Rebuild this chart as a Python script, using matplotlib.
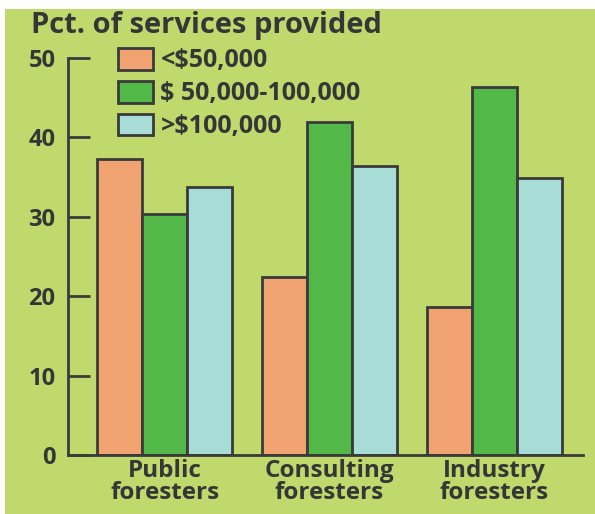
import numpy as np
import matplotlib
matplotlib.use('Agg')
import matplotlib.pyplot as plt
from matplotlib.patches import Rectangle

categories = ['Public\nforesters', 'Consulting\nforesters', 'Industry\nforesters']
series_names = ['<$50,000', '$ 50,000-100,000', '>$100,000']
low_income = [37.3, 22.4, 18.7]
mid_income = [30.3, 42.0, 46.4]
high_income = [33.8, 36.4, 34.9]
y_ticks = [0, 10, 20, 30, 40, 50]

colors = ['#f0a271', '#52b847', '#a8dcd6']
edge = '#3a3a3a'
text_col = '#363636'
bg = '#bfd96c'

plt.rcParams['font.family'] = ['Open Sans', 'DejaVu Sans']
plt.rcParams['font.weight'] = 'bold'

fig = plt.figure(figsize=(5.95, 5.14), dpi=100)
fig.patch.set_facecolor('white')
fig.patches.append(Rectangle((5 / 595, 0), 1, 1 - 9 / 514, transform=fig.transFigure,
                             facecolor=bg, edgecolor='none', zorder=-1))

ax = fig.add_axes([68 / 595, 1 - 455 / 514, (583 - 68) / 595, (455 - 58) / 514])
ax.set_facecolor('none')

x = np.arange(len(categories))
w = 0.273
for i, (vals, name) in enumerate(zip([low_income, mid_income, high_income], series_names)):
    ax.bar(x + (i - 1) * w, vals, width=w, color=colors[i], edgecolor=edge,
           linewidth=2, label=name)

ax.set_xlim(-0.588, 2.539)
ax.set_ylim(0, 50)
ax.set_yticks(y_ticks)
ax.set_xticks(x)
ax.set_xticklabels(categories, fontsize=17.5, fontweight='bold', color=text_col,
                   linespacing=0.9)
for lab in ax.get_yticklabels():
    lab.set_fontsize(17)
    lab.set_fontweight('bold')
    lab.set_color(text_col)

ax.tick_params(axis='y', direction='in', length=16, width=2, color=edge, pad=9)
ax.tick_params(axis='x', length=0, pad=3)
ax.spines['top'].set_visible(False)
ax.spines['right'].set_visible(False)
ax.spines['left'].set_color(edge)
ax.spines['bottom'].set_color(edge)
ax.spines['left'].set_linewidth(2)
ax.spines['bottom'].set_linewidth(2)

fig.text(31 / 595, 1 - 26 / 514, 'Pct. of services provided', fontsize=21,
         fontweight='bold', color=text_col, va='center', ha='left')

leg = ax.legend(loc='upper left', bbox_to_anchor=(0.097, 1.025), frameon=False,
                fontsize=18, handlelength=1.4, handleheight=0.95,
                handletextpad=0.3, labelspacing=0.3, borderpad=0,
                borderaxespad=0)
for t in leg.get_texts():
    t.set_color(text_col)
    t.set_fontweight('bold')

fig.savefig('out.png', dpi=100, facecolor=fig.get_facecolor())
